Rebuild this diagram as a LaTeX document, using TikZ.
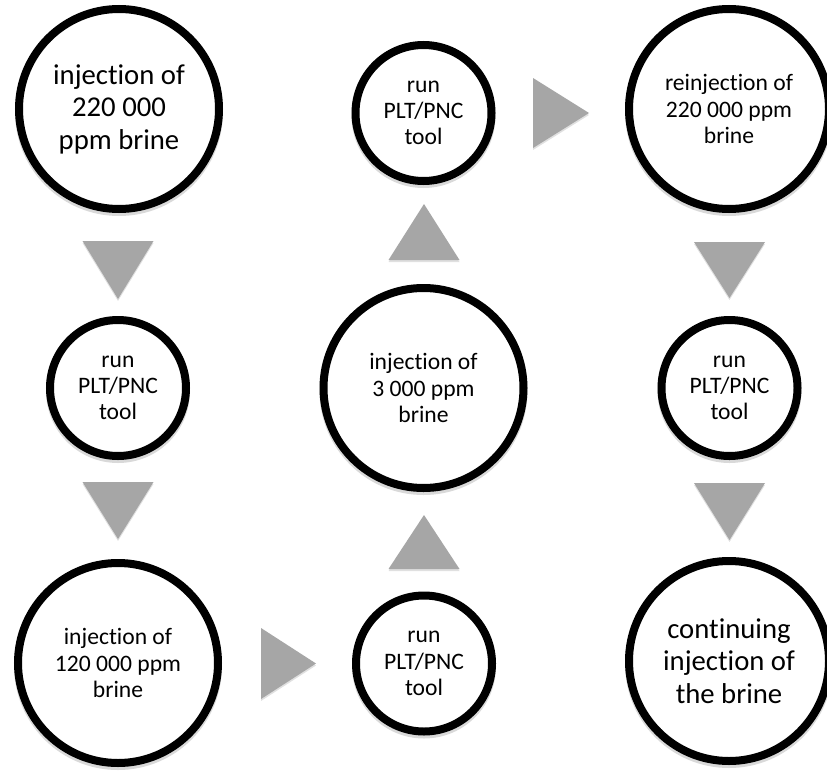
\documentclass[tikz,border=0pt]{standalone}
\usepackage{fontspec}
\setmainfont{Carlito}[Ligatures=NoCommon]
\usetikzlibrary{shadows}
\definecolor{tgray}{RGB}{166,166,166}
\begin{document}
\begin{tikzpicture}[x=1pt,y=-1pt,
  bubble/.style={circle, draw=black, line width=8pt, fill=white, inner sep=0pt, align=center,
    drop shadow={shadow xshift=0pt, shadow yshift=-3pt, opacity=0.15, fill=black, draw=black, line width=8pt}},
  largetext/.style={font=\fontsize{28.7}{32.5}\selectfont},
  smalltext/.style={font=\fontsize{23.6}{26.3}\selectfont},
  big/.style={bubble, minimum size=200pt, smalltext},
  bigl/.style={bubble, minimum size=200pt, largetext},
  small/.style={bubble, minimum size=136pt, smalltext},
  tri/.style={fill=tgray, drop shadow={shadow xshift=0pt, shadow yshift=-2pt, opacity=0.12, fill=black}}]
\useasboundingbox (0,0) rectangle (827,771);
\clip (0,0) rectangle (827,771);
\fill[white] (0,0) rectangle (827,771);

% nodes
\node[bigl]  (c1) at (119,109)   {injection of\\220 000\\ppm brine};
\node[small] (c2) at (118,388)   {run\\PLT/PNC\\tool};
\node[big]   (c3) at (118,663)   {injection of\\120 000 ppm\\brine};
\node[small] (c4) at (424,663.5) {run\\PLT/PNC\\tool};
\node[big]   (c5) at (423.5,388) {injection of\\3 000 ppm\\brine};
\node[small] (c6) at (423.5,113) {run\\PLT/PNC\\tool};
\node[big]   (c7) at (729,109)   {reinjection of\\220 000 ppm\\brine};
\node[small] (c8) at (729.5,388) {run\\PLT/PNC\\tool};
\node[bigl]  (c9) at (729,661)   {continuing\\injection of\\the brine};

% triangle arrows
\fill[tri] (82.5,241) -- (153.5,241) -- (118,299) -- cycle;
\fill[tri] (82.5,482) -- (153.5,482) -- (118,539) -- cycle;
\fill[tri] (261,628) -- (316,663.5) -- (261,699) -- cycle;
\fill[tri] (388.5,569) -- (459.5,569) -- (424,515) -- cycle;
\fill[tri] (388.5,260) -- (459.5,260) -- (424,204) -- cycle;
\fill[tri] (533,78) -- (589,113) -- (533,148) -- cycle;
\fill[tri] (694,242) -- (765,242) -- (729.5,298) -- cycle;
\fill[tri] (694,483) -- (765,483) -- (729.5,540) -- cycle;
\end{tikzpicture}
\end{document}
